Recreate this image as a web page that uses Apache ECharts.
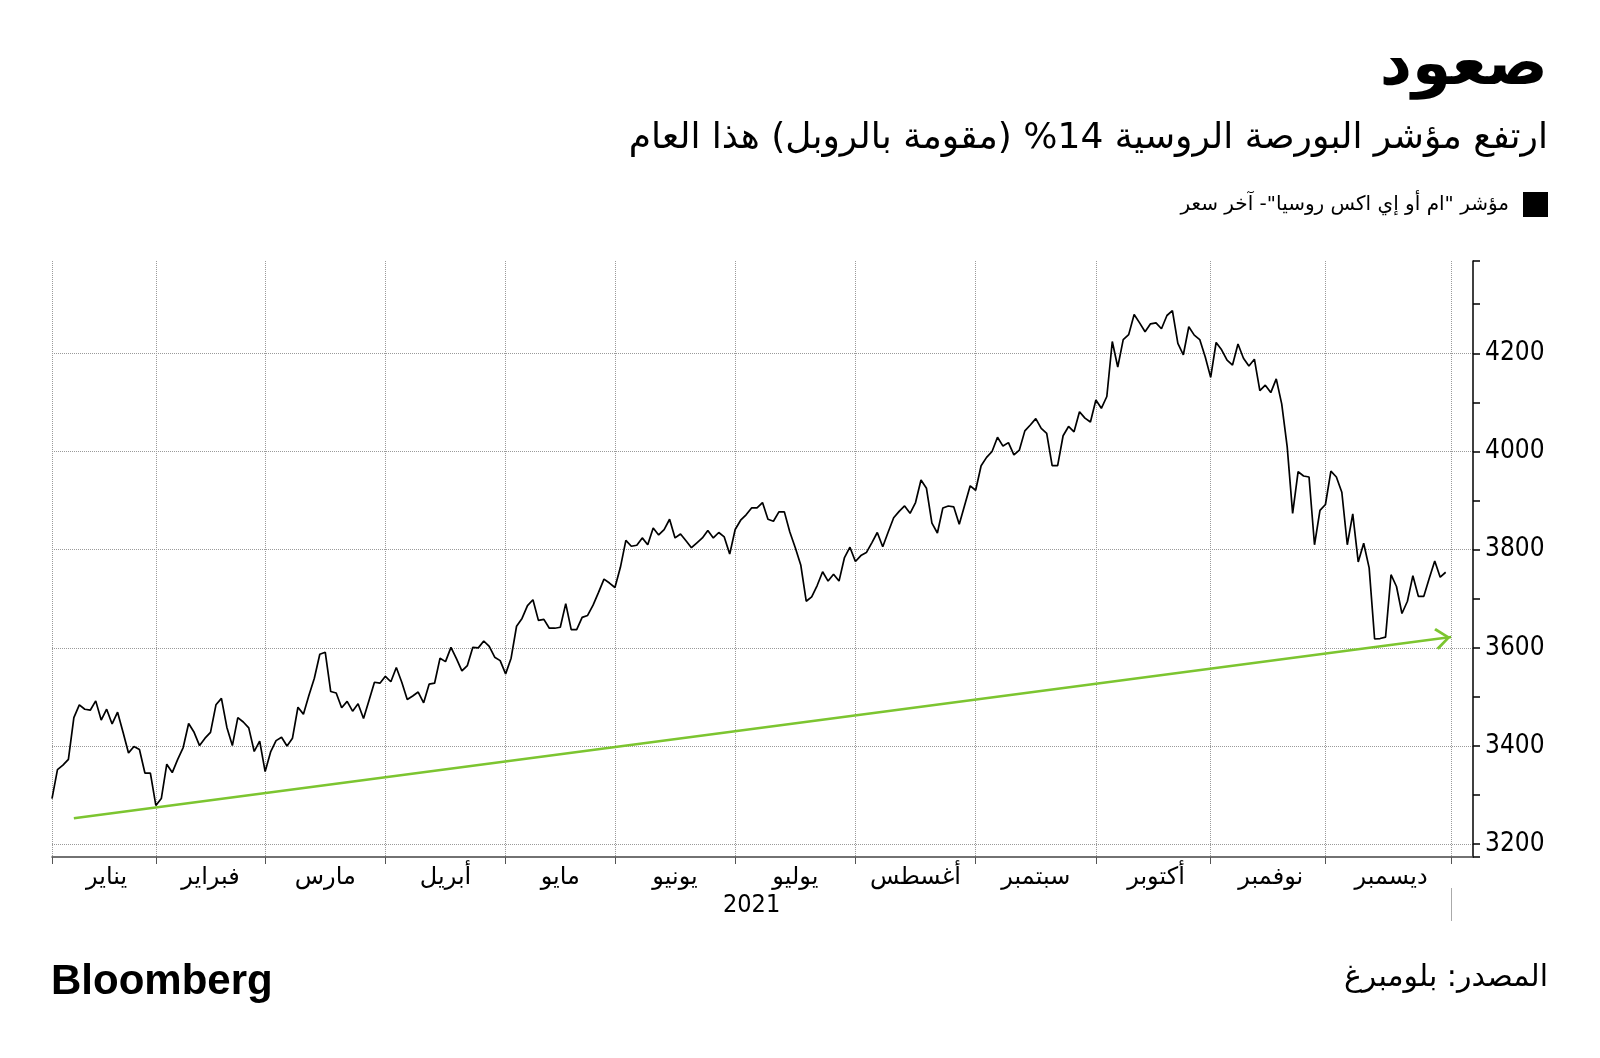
<!DOCTYPE html>
<html lang="ar">
<head>
<meta charset="utf-8">
<script src="https://cdn.jsdelivr.net/npm/echarts@6/dist/echarts.min.js"></script>
<style>
html,body{margin:0;padding:0;background:#fff;}
#chart{width:1600px;height:1058px;}
</style>
</head>
<body>
<div id="chart" dir="rtl"></div>
<script>
// ---------- DATA ----------
const monthLabels = ['يناير','فبراير','مارس','أبريل','مايو','يونيو','يوليو','أغسطس','سبتمبر','أكتوبر','نوفمبر','ديسمبر'];
const monthDays = [19,20,22,22,20,22,22,22,22,21,21,23];   // trading days plotted per month (2021)
const nextYearDays = 5;                                    // empty slots of Jan 2022 on the axis
const yearLabel = '2021';
const titleText = 'صعود';
const subtitleText = 'ارتفع مؤشر البورصة الروسية 14% (مقومة بالروبل) هذا العام';
const seriesName = 'مؤشر "ام أو إي اكس روسيا"- آخر سعر';
const sourceText = 'المصدر: بلومبرغ';
const brandText = 'Bloomberg';
const yTickLabels = [3200,3400,3600,3800,4000,4200];

const values = [
 3293,3352,3361,3373,3458,3484,3475,3473,3492,3453,3475,3445,3469,3428,3386,3399,3393,3345,3345,
 3279,3293,3363,3346,3373,3397,3446,3428,3401,3416,3428,3484,3497,3438,3401,3458,3449,3437,3389,3410,
 3348,3388,3411,3418,3400,3416,3479,3465,3503,3538,3587,3591,3511,3508,3478,3491,3471,3486,3456,3493,3530,3528,
 3542,3531,3560,3530,3495,3502,3510,3488,3526,3528,3579,3572,3601,3578,3553,3564,3601,3600,3614,3603,3581,3574,
 3547,3579,3644,3660,3686,3698,3656,3658,3640,3640,3642,3690,3637,3637,3662,3666,3687,3713,3740,3732,
 3723,3764,3819,3807,3809,3824,3810,3844,3830,3841,3862,3824,3832,3818,3804,3814,3824,3839,3824,3835,3826,3791,
 3841,3860,3871,3885,3885,3896,3862,3858,3877,3877,3836,3804,3769,3695,3704,3727,3755,3736,3750,3736,3784,3805,
 3776,3788,3794,3814,3835,3806,3836,3865,3878,3889,3874,3896,3942,3925,3854,3834,3885,3889,3887,3852,3891,3930,
 3921,3971,3988,4000,4029,4011,4018,3993,4003,4042,4054,4067,4047,4037,3971,3971,4032,4051,4040,4081,4068,4060,
 4105,4088,4112,4224,4172,4228,4238,4279,4262,4244,4260,4262,4250,4277,4287,4220,4197,4254,4237,4228,4193,
 4151,4222,4207,4186,4176,4219,4190,4174,4188,4124,4135,4120,4148,4097,4010,3874,3959,3950,3948,3810,3880,
 3892,3960,3948,3917,3810,3873,3775,3813,3763,3618,3619,3622,3749,3725,3670,3695,3747,3705,3705,3742,3777,3744,3754
];

// green trend arrow: [category index, value] at start and end
const trendX = [4, 256];
const trendY = [3253, 3622];

// ---------- BUILD ----------
const AR = "'DejaVu Sans', sans-serif";
const NUM = "'DejaVu Sans Condensed', 'DejaVu Sans', sans-serif";

const categories = [];
const starts = [];
let acc = 0;
monthDays.forEach((n, m) => {
  starts.push(acc);
  for (let d = 0; d < n; d++) categories.push((m + 1) + '-' + d);
  acc += n;
});
starts.push(acc);
for (let d = 0; d < nextYearDays; d++) categories.push('13-' + d);

const startSet = new Set(starts);
const midMap = {};
monthDays.forEach((n, m) => { midMap[starts[m] + Math.round(n / 2)] = monthLabels[m]; });
const yearIdx = Math.round(starts[12] / 2);

const chevron = 'path://M11,16 L22,29 L20,31 L11,20 L2,31 L0,29 Z M11,0';

const chart = echarts.init(document.getElementById('chart'), null, {renderer: 'canvas'});
chart.setOption({
  backgroundColor: '#ffffff',
  animation: false,
  title: [
    { text: titleText, right: 52, top: 36, padding: 0,
      textStyle: { fontFamily: AR, fontSize: 63, fontWeight: 'bold', color: '#000' } },
    { text: subtitleText, right: 52, top: 121, padding: 0,
      textStyle: { fontFamily: AR, fontSize: 36, fontWeight: 'normal', color: '#000' } },
    { text: sourceText, right: 52, top: 963, padding: 0,
      textStyle: { fontFamily: AR, fontSize: 30, fontWeight: 'normal', color: '#000' } },
    { text: brandText, left: 51, top: 961, padding: 0,
      textStyle: { fontFamily: "'Liberation Sans', Arial, sans-serif", fontSize: 42, fontWeight: 'bold', color: '#000' } }
  ],
  legend: {
    data: [seriesName], right: 52, top: 192, padding: 0,
    icon: 'rect', itemWidth: 25, itemHeight: 25, align: 'right', selectedMode: false,
    itemStyle: { color: '#000', borderWidth: 0 },
    textStyle: { fontFamily: AR, fontSize: 20, color: '#000', padding: [0, 9, 0, 0] }
  },
  grid: { left: 52, right: 127, top: 261, bottom: 201, containLabel: false, outerBoundsMode: 'none' },
  xAxis: [
    {
      type: 'category', data: categories, boundaryGap: false, position: 'bottom',
      axisLine: { show: true, onZero: false, lineStyle: { color: '#444', width: 1.5 } },
      axisTick: { show: true, interval: (i) => startSet.has(i), length: 7, lineStyle: { color: '#555', width: 1 } },
      axisLabel: { show: true, interval: (i) => midMap[i] !== undefined, formatter: (v, i) => midMap[i] || '',
        margin: 9, fontFamily: AR, fontSize: 24, color: '#000' },
      splitLine: { show: true, interval: (i) => startSet.has(i),
        lineStyle: { color: '#9a9a9a', type: 'dotted', width: 1 } }
    },
    {
      type: 'category', data: categories, boundaryGap: false, position: 'bottom', offset: 31,
      axisLine: { show: false, onZero: false },
      axisTick: { show: true, interval: (i) => i === starts[12], length: 33, lineStyle: { color: '#aaa', width: 1 } },
      axisLabel: { show: true, interval: (i) => i === yearIdx, formatter: () => yearLabel,
        margin: 5, fontFamily: NUM, fontSize: 25, color: '#000' },
      splitLine: { show: false }
    }
  ],
  yAxis: {
    type: 'value', position: 'right', min: 3174, max: 4388, splitNumber: 12,
    minInterval: 100, maxInterval: 100, scale: true,
    axisLine: { show: true, onZero: false, lineStyle: { color: '#000', width: 1.5 } },
    axisTick: { show: true, length: 7, lineStyle: { color: '#000', width: 1.5 } },
    axisLabel: { margin: 12, fontFamily: NUM, fontSize: 26, color: '#000',
      formatter: (v) => yTickLabels.includes(v) ? String(v) : '' },
    splitLine: { show: true, showMinLine: false, showMaxLine: false,
      lineStyle: { color: ['#9a9a9a', 'rgba(0,0,0,0)'], type: 'dotted', width: 1 } }
  },
  series: [
    {
      name: seriesName, type: 'line', data: values, showSymbol: false, symbol: 'none',
      lineStyle: { color: '#000', width: 1.7 }, itemStyle: { color: '#000' }, z: 3,
      markLine: {
        silent: true, symbol: ['none', chevron], symbolSize: [22, 32], animation: false,
        label: { show: false }, emphasis: { disabled: true },
        lineStyle: { color: '#7cc530', width: 2.6, type: 'solid' },
        data: [[ { coord: [trendX[0], trendY[0]] }, { coord: [trendX[1], trendY[1]] } ]]
      }
    }
  ]
});
</script>
</body>
</html>
